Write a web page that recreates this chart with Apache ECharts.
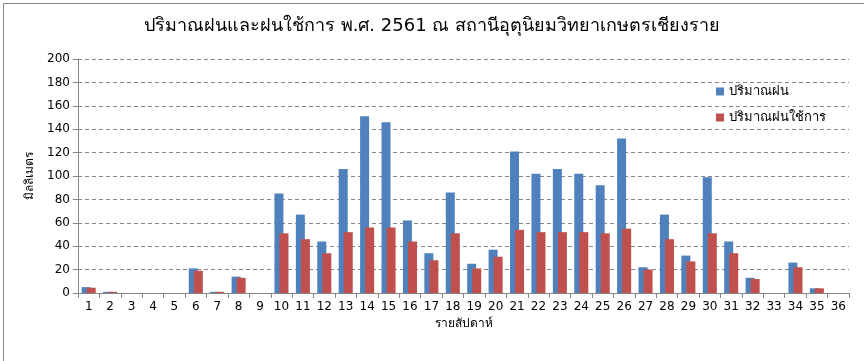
<!DOCTYPE html>
<html><head><meta charset="utf-8">
<script src="https://cdn.jsdelivr.net/npm/echarts@6/dist/echarts.min.js"></script>
<style>html,body{margin:0;padding:0;background:#fff}#c{width:864px;height:361px}</style>
</head><body><div id="c"></div>
<script>
const categories = ['1','2','3','4','5','6','7','8','9','10','11','12','13','14','15','16','17','18','19','20','21','22','23','24','25','26','27','28','29','30','31','32','33','34','35','36'];
const rainfall = [5,1,0,0,0,21,1,14,0,85,67,44,106,151,146,62,34,86,25,37,121,102,106,102,92,132,22,67,32,99,44,13,0,26,4,0];
const effectiveRain = [4.5,1,0,0,0,19,1,13,0,51,46,34,52,56,56,44,28,51,21,31,54,52,52,52,51,55,20,46,27,51,34,12,0,22,4,0];
const yTicks = [0,20,40,60,80,100,120,140,160,180,200];
const titleText = 'ปริมาณฝนและฝนใช้การ พ.ศ. 2561 ณ สถานีอุตุนิยมวิทยาเกษตรเชียงราย';
const seriesNames = ['ปริมาณฝน','ปริมาณฝนใช้การ'];
const yName = 'มิลลิเมตร';
const xName = 'รายสัปดาห์';

const font = 'Tahoma, "DejaVu Sans", "Noto Sans", sans-serif';
const chart = echarts.init(document.getElementById('c'));
chart.setOption({
  animation:false,
  backgroundColor:'#fff',
  title:{text:titleText,left:'center',top:12,textStyle:{fontFamily:font,fontSize:18,fontWeight:'normal',color:'#000'}},
  legend:{orient:'vertical',left:711,top:80,itemWidth:8,itemHeight:8,itemGap:13,icon:'rect',
    textStyle:{fontFamily:font,fontSize:13,color:'#000'},data:seriesNames},
  grid:{left:78,right:15,top:59,bottom:68},
  xAxis:{type:'category',data:categories,
    name:xName,nameLocation:'middle',nameGap:25,nameTextStyle:{fontFamily:font,fontSize:12,color:'#000'},
    axisLine:{lineStyle:{color:'#868686'}},axisTick:{show:true,length:5,lineStyle:{color:'#868686'}},
    axisLabel:{color:'#000',fontFamily:font,fontSize:12,margin:8}},
  yAxis:{type:'value',min:yTicks[0],max:yTicks[yTicks.length-1],interval:20,
    name:yName,nameLocation:'middle',nameGap:36,nameRotate:90,nameTextStyle:{fontFamily:font,fontSize:12,color:'#000'},
    axisLine:{show:true,lineStyle:{color:'#868686'}},axisTick:{show:true,length:5,lineStyle:{color:'#868686'}},
    axisLabel:{color:'#000',fontFamily:font,fontSize:12,margin:8},
    splitLine:{lineStyle:{color:'#868686',type:[4,3]}}},
  series:[
    {name:seriesNames[0],type:'bar',data:rainfall,barWidth:9,barGap:'-44%',itemStyle:{color:'#4F81BD'}},
    {name:seriesNames[1],type:'bar',data:effectiveRain,barWidth:9,barGap:'-44%',itemStyle:{color:'#C0504D'}}
  ],
  graphic:[{type:'rect',left:1,top:1,shape:{width:861,height:358},style:{fill:'none',stroke:'#868686',lineWidth:1},silent:true}]
});
</script></body></html>
